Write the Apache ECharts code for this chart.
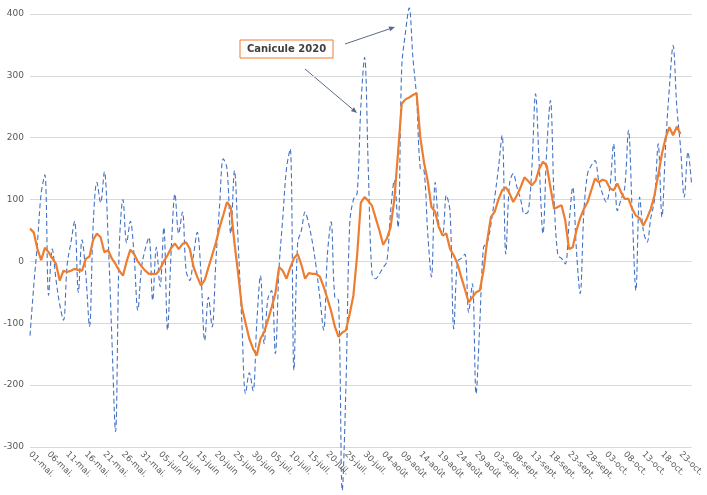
<!DOCTYPE html>
<html>
<head>
<meta charset="utf-8">
<script src="https://cdn.jsdelivr.net/npm/echarts/dist/echarts.min.js"></script>
<style>
html, body { margin: 0; padding: 0; background: #fff; }
#chart { width: 707px; height: 495px; }
</style>
</head>
<body>
<div id="chart"></div>
<script>
// mois (libellé court, nb de jours) - du 01 mai au 26 oct. 2020
var months = [['mai.', 31], ['juin', 30], ['juil.', 31], ['août', 31], ['sept.', 30], ['oct.', 26]];

// valeurs journalières (pointillés bleus)
var daily = [
	-120, -40, 30, 110, 140, -55, 20, -30, -70, -95,
	-5, 30, 65, -50, 35, -20, -105, 60, 128, 95,
	145, 40, -120, -275, 20, 100, 30, 65, 10, -79,
	-10, 20, 39, -63, 23, -41, 55, -111, 20, 109,
	45, 80, -15, -31, 10, 47, -20, -128, -58, -106,
	0, 90, 166, 150, 45, 147, 30, -100, -214, -180,
	-209, -100, -23, -133, -60, -47, -149, -10, 70, 150,
	182, -176, 30, 50, 80, 60, 30, -10, -60, -111,
	10, 64, -58, -63, -370, -200, 60, 100, 110, 250,
	330, 150, -20, -28, -20, -10, 0, 80, 131, 55,
	314, 370, 410, 330, 265, 150, 147, 45, -25, 128,
	60, 45, 107, 80, -109, 0, 5, 12, -82, -36,
	-214, -100, 23, 30, 60, 103, 150, 204, 12, 126,
	142, 120, 100, 77, 80, 150, 271, 155, 45, 180,
	260, 100, 10, 5, -4, 60, 120, 18, -52, 80,
	142, 155, 163, 130, 110, 96, 120, 190, 82, 100,
	120, 212, 80, -47, 104, 50, 31, 70, 100, 190,
	72, 190, 280, 349, 250, 185, 104, 177, 123
];

// moyenne glissante (courbe orange)
var trend = [
	53, 47, 20, 2, 22, 15, 5, -4, -31, -15,
	-17, -15, -12, -14, -15, 4, 8, 35, 45, 39,
	15, 18, 5, -4, -15, -23, 0, 19, 12, 0,
	-8, -15, -20, -20, -20, -12, 0, 10, 22, 29,
	20, 28, 31, 20, -9, -25, -39, -30, -10, 10,
	30, 55, 75, 96, 88, 30, -20, -74, -100, -125,
	-141, -152, -125, -114, -95, -74, -52, -9, -15, -28,
	-10, 5, 12, -5, -28, -19, -20, -20, -25, -41,
	-60, -80, -105, -122, -115, -111, -85, -55, 10, 95,
	104, 98, 90, 70, 50, 27, 37, 55, 100, 175,
	255, 262, 265, 269, 272, 200, 160, 130, 88, 80,
	55, 42, 45, 20, 10, -4, -25, -45, -66, -58,
	-50, -47, -15, 34, 72, 80, 100, 115, 120, 110,
	96, 107, 120, 136, 130, 123, 130, 150, 161, 155,
	120, 85, 88, 91, 66, 20, 23, 50, 70, 85,
	96, 115, 134, 128, 132, 130, 118, 115, 126, 112,
	101, 101, 85, 74, 70, 58, 70, 85, 107, 140,
	174, 200, 217, 204, 218, 206, null, null, null
];

var yTicks = { min: -300, max: 400, step: 100 };

var days = [];
months.forEach(function (m) {
	for (var d = 1; d <= m[1]; d++) {
		days.push((d < 10 ? '0' + d : '' + d) + '-' + m[0]);
	}
});

// petite flèche d'annotation
function arrow(x1, y1, x2, y2) {
	var a = Math.atan2(y2 - y1, x2 - x1), L = 6, w = 2.5;
	var bx = x2 - L * Math.cos(a), by = y2 - L * Math.sin(a);
	return [
		{ type: 'line', shape: { x1: x1, y1: y1, x2: bx, y2: by },
		  style: { stroke: '#5a6a85', lineWidth: 1 } },
		{ type: 'polygon',
		  shape: { points: [[x2, y2],
			[bx + w * Math.sin(a), by - w * Math.cos(a)],
			[bx - w * Math.sin(a), by + w * Math.cos(a)]] },
		  style: { fill: '#5a6a85' } }
	];
}

var chart = echarts.init(document.getElementById('chart'));
var option = {
	animation: false,
	grid: { left: 30, right: 6, top: 14, bottom: 48 },
	xAxis: {
		type: 'category',
		boundaryGap: false,
		data: days,
		axisLine: { show: false },
		axisTick: { show: false },
		axisLabel: {
			interval: 4,
			rotate: -45,
			fontSize: 8.5,
			color: '#595959',
			fontFamily: 'DejaVu Sans',
			margin: 6
		}
	},
	yAxis: {
		type: 'value',
		min: yTicks.min,
		max: yTicks.max,
		interval: yTicks.step,
		axisLine: { show: false },
		axisTick: { show: false },
		axisLabel: { fontSize: 9, color: '#595959', margin: 6, fontFamily: 'DejaVu Sans' },
		splitLine: { lineStyle: { color: '#d9d9d9', width: 1 } }
	},
	series: [
		{
			type: 'line',
			data: daily,
			smooth: 0.35,
			showSymbol: false,
			clip: false,
			z: 2,
			lineStyle: { color: '#4472c4', width: 1.1, type: [5, 3] }
		},
		{
			type: 'line',
			data: trend,
			showSymbol: false,
			z: 3,
			lineStyle: { color: '#ed7d31', width: 2.2 }
		}
	],
	graphic: [
		{ type: 'rect', shape: { x: 240, y: 40, width: 93, height: 18 },
		  style: { fill: '#fff', stroke: '#ed7d31', lineWidth: 1 } },
		{ type: 'text', x: 286.5, y: 49,
		  style: { text: 'Canicule 2020', fill: '#404040', font: 'bold 10px "DejaVu Sans"',
			align: 'center', verticalAlign: 'middle' } }
	].concat(arrow(345, 44, 395, 27)).concat(arrow(305, 69, 357, 113))
};
chart.setOption(option);
</script>
</body>
</html>
